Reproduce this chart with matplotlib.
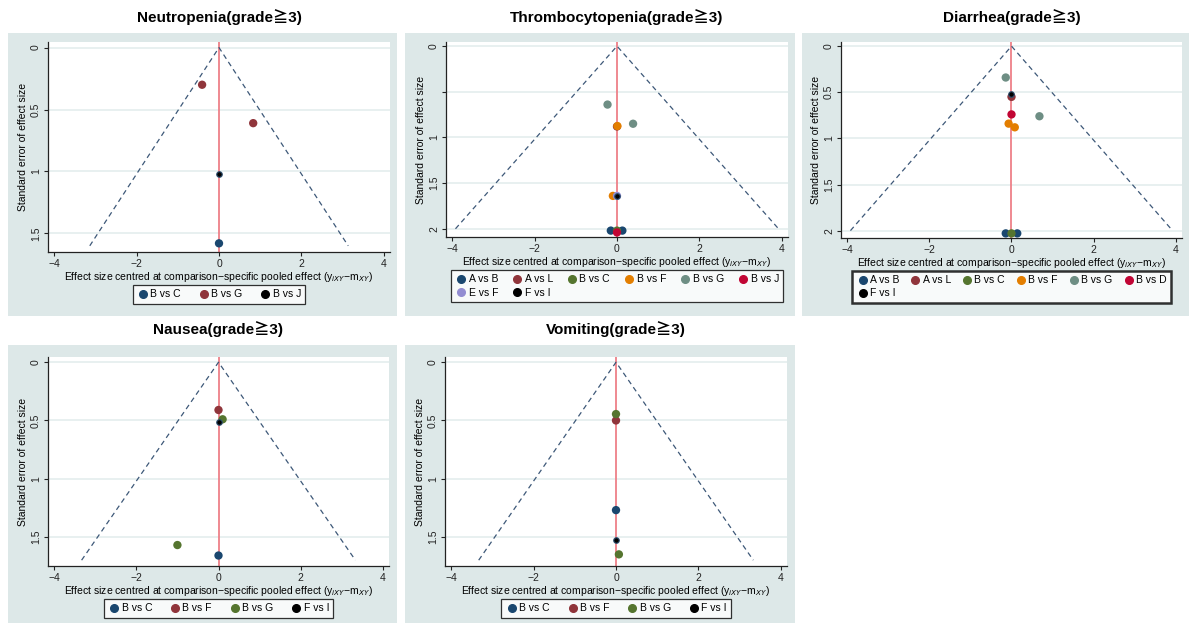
import matplotlib
matplotlib.use("Agg")
import matplotlib.pyplot as plt
from matplotlib.patches import Rectangle
from matplotlib.lines import Line2D

W, H = 1189, 623

# Stata s2color order; the last comparison of each panel is drawn in black
PALETTE = ["#1a476f", "#90353b", "#55752f", "#e37e00", "#6e8e84", "#c10534", "#938dd2"]

# ---- data ----
neut_title = "Neutropenia(grade≧3)"
neut_legend = ["B vs C", "B vs G", "B vs J"]
neut_group = ["B vs C", "B vs G", "B vs G", "B vs J"]
neut_x = [0.0, -0.41, 0.83, 0.0]
neut_se = [1.58, 0.30, 0.61, 1.02]
neut_maxse = 1.6

thr_title = "Thrombocytopenia(grade≧3)"
thr_legend = ["A vs B", "A vs L", "B vs C", "B vs F", "B vs G", "B vs J", "E vs F", "F vs I"]
thr_group = ["A vs B", "A vs B", "A vs L", "B vs C", "B vs F", "B vs F", "B vs G", "B vs G",
             "B vs J", "E vs F", "F vs I"]
thr_x = [-0.15, 0.13, 0.0, 0.0, 0.01, -0.10, -0.23, 0.39, 0.0, 0.0, 0.0]
thr_se = [2.02, 2.02, 0.88, 2.02, 0.875, 1.64, 0.64, 0.85, 2.04, 1.64, 1.64]
thr_maxse = 2.0

dia_title = "Diarrhea(grade≧3)"
dia_legend = ["A vs B", "A vs L", "B vs C", "B vs F", "B vs G", "B vs D", "F vs I"]
dia_group = ["A vs B", "A vs B", "A vs L", "B vs C", "B vs F", "B vs F", "B vs G", "B vs G",
             "B vs D", "F vs I"]
dia_x = [-0.14, 0.14, 0.0, 0.0, -0.07, 0.08, -0.14, 0.68, 0.0, 0.0]
dia_se = [2.03, 2.03, 0.55, 2.03, 0.84, 0.88, 0.34, 0.76, 0.74, 0.52]
dia_maxse = 2.0

nau_title = "Nausea(grade≧3)"
nau_legend = ["B vs C", "B vs F", "B vs G", "F vs I"]
nau_group = ["B vs C", "B vs F", "B vs G", "B vs G", "F vs I"]
nau_x = [0.0, 0.0, 0.10, -1.0, 0.0]
nau_se = [1.66, 0.41, 0.49, 1.57, 0.515]
nau_maxse = 1.7

vom_title = "Vomiting(grade≧3)"
vom_legend = ["B vs C", "B vs F", "B vs G", "F vs I"]
vom_group = ["B vs C", "B vs F", "B vs G", "B vs G", "F vs I"]
vom_x = [0.0, 0.0, 0.0, 0.07, 0.0]
vom_se = [1.27, 0.50, 0.445, 1.65, 1.53]
vom_maxse = 1.7

BG = "#dde8e8"
GRID = "#e4eeee"
FONT = ["Liberation Sans", "Noto Sans CJK SC", "DejaVu Sans"]
plt.rcParams["font.family"] = FONT

fig = plt.figure(figsize=(W / 100, H / 100), dpi=100)


def frac(x0, y0, x1, y1):
    # pixel box (top-left origin) -> figure fraction rect
    return [x0 / W, 1 - y1 / H, (x1 - x0) / W, (y1 - y0) / H]


def panel(bg, plot, title, legend, group, xs, ses, maxse, ncol, hide_half=False, colsp=1.6, frame_lw=0.9):
    fig.patches.append(Rectangle((bg[0] / W, 1 - bg[3] / H), (bg[2] - bg[0]) / W, (bg[3] - bg[1]) / H,
                                 transform=fig.transFigure, facecolor=BG, edgecolor="none", zorder=-5))
    ax = fig.add_axes(frac(*plot))
    ax.set_facecolor("white")
    ymax = max(maxse, max(ses)) + 0.05
    ax.set_xlim(-4.15, 4.15)
    ax.set_ylim(ymax, -0.045)
    yt = [0, 0.5, 1, 1.5, 2] if maxse >= 2 else [0, 0.5, 1, 1.5]
    ax.set_yticks(yt)
    labels = [f"{t:g}" for t in yt]
    if hide_half:
        labels[1] = ""
    ax.set_yticklabels(labels, rotation=90, va="center")
    ax.set_xticks([-4, -2, 0, 2, 4])
    ax.set_xticklabels(["−4", "−2", "0", "2", "4"])
    ax.tick_params(labelsize=7.5, length=3, width=0.8, colors="#222222", pad=2)
    for t in yt:
        ax.axhline(t, color=GRID, lw=1.2, zorder=0)
    for s in ["top", "right"]:
        ax.spines[s].set_visible(False)
    for s in ["left", "bottom"]:
        ax.spines[s].set_color("#222222")
        ax.spines[s].set_linewidth(0.9)
    ax.axvline(0, color="#ee8088", lw=1.3, zorder=1)
    lim = 1.96 * maxse
    ax.plot([-lim, 0, lim], [maxse, 0, maxse], ls=(0, (4, 3)), color="#3d5878", lw=0.9, zorder=2)

    colors = {g: (PALETTE[i] if i < len(legend) - 1 else "black") for i, g in enumerate(legend)}
    last = legend[-1]
    for g, x, s in zip(group, xs, ses):
        if g == last:
            ax.scatter(x, s, s=16, color="black", edgecolor="#2d4f70", lw=0.8, zorder=5)
        else:
            ax.scatter(x, s, s=36, color=colors[g], edgecolor="none", zorder=3)

    ax.set_ylabel("Standard error of effect size", fontsize=7.5, labelpad=2)
    ax.set_xlabel("Effect size centred at comparison−specific pooled effect (y$_{iXY}$−m$_{XY}$)",
                  fontsize=7.5, labelpad=1)
    ax.set_title(title, fontsize=11, fontweight="bold", pad=0,
                 x=0.5, y=1.0 + (plot[1] - bg[1] + 8) / (plot[3] - plot[1]), va="bottom")

    # legend filled row by row (Stata style): pad to full rows and reorder column-major
    nrow = -(-len(legend) // ncol)
    handles = [Line2D([], [], marker="o", ls="none", color=colors[g], markersize=5.5) for g in legend]
    labels = list(legend)
    blank = Line2D([], [], ls="none", marker="none")
    while len(handles) < nrow * ncol:
        handles.append(blank)
        labels.append("")
    order = [r * ncol + c for c in range(ncol) for r in range(nrow)]
    handles = [handles[i] for i in order]
    labels = [labels[i] for i in order]
    cx = (plot[0] + plot[2]) / 2
    leg = fig.legend(handles, labels, loc="upper center", bbox_to_anchor=(cx / W, 1 - (plot[3] + 28) / H),
                     ncol=ncol, fontsize=7.5, frameon=True, fancybox=False, handletextpad=0.1,
                     columnspacing=colsp, borderpad=0.4, handlelength=1.2, labelspacing=0.3)
    leg.get_frame().set_edgecolor("black")
    leg.get_frame().set_linewidth(frame_lw)
    return ax


panel((8, 33, 397, 316), (48, 42, 390, 252), neut_title, neut_legend, neut_group, neut_x, neut_se,
      neut_maxse, 3)
panel((405, 33, 795, 316), (446, 42, 788, 237), thr_title, thr_legend, thr_group, thr_x, thr_se,
      thr_maxse, 6, hide_half=True, colsp=1.25)
panel((802, 33, 1189, 316), (841, 42, 1182, 238), dia_title, dia_legend, dia_group, dia_x, dia_se,
      dia_maxse, 6, colsp=0.95, frame_lw=1.8)
panel((8, 345, 397, 623), (48, 357, 389, 566), nau_title, nau_legend, nau_group, nau_x, nau_se,
      nau_maxse, 4)
panel((405, 345, 795, 623), (445, 357, 787, 566), vom_title, vom_legend, vom_group, vom_x, vom_se,
      vom_maxse, 4)

fig.savefig("out.png", dpi=100, facecolor="white")
